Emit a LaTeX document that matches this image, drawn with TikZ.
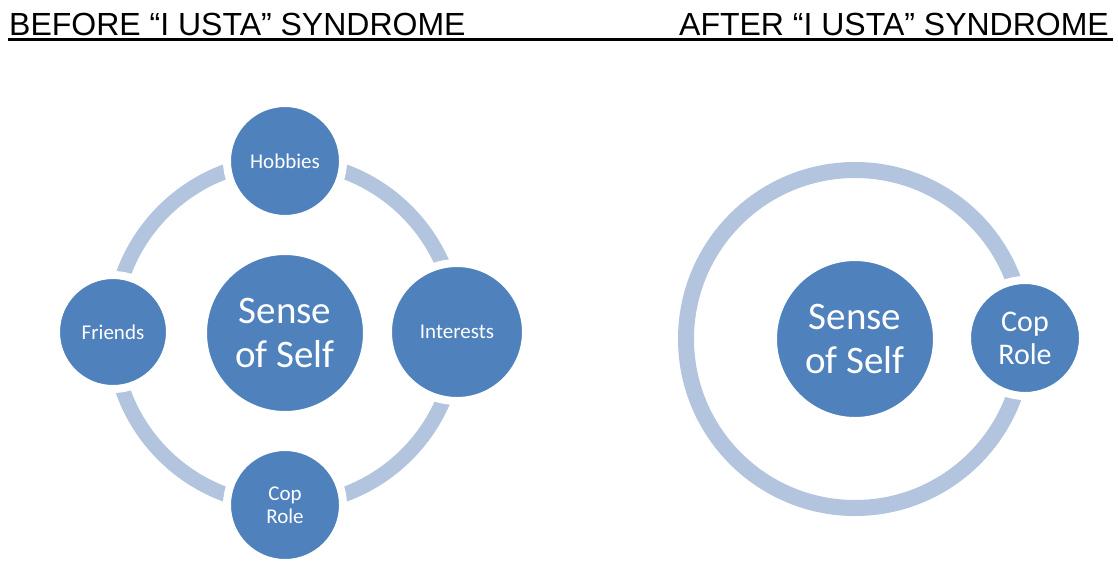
\documentclass[tikz,border=0pt]{standalone}
\usepackage{fontspec}
\setmainfont{Liberation Sans}
\newfontfamily\bubblefont{Carlito}
\definecolor{bubbleblue}{HTML}{4F81BD}
\definecolor{ringblue}{HTML}{B3C4DE}
\begin{document}
\begin{tikzpicture}[x=1pt,y=-1pt,
  ring/.style={draw=ringblue,line width=15pt},
  bubble/.style={circle,fill=bubbleblue,draw=white,line width=8pt,
    inner sep=0pt,text=white,align=center,
    minimum size={2*#1+8pt}},
  small/.style={font=\bubblefont\fontsize{21}{23}\selectfont},
  mid/.style={font=\bubblefont\fontsize{30}{33}\selectfont},
  big/.style={font=\bubblefont\fontsize{39}{44}\selectfont},
  heading/.style={font=\fontsize{32}{36}\selectfont,inner sep=0pt}]
\useasboundingbox (0,0) rectangle (1118,568);

% headings with a single underline running across the page
\node[heading,anchor=base west] (before) at (9,35) {BEFORE “I USTA” SYNDROME};
\node[heading,anchor=base east] (after) at (1109,35) {AFTER “I USTA” SYNDROME};
\coordinate (ulA) at (8,39.5);
\coordinate (ulB) at (1113,39.5);
\draw[line width=2.6pt] (ulA) -- (ulB);

% before: four roles around the self
\coordinate (cL) at (285,333);
\draw[ring] (cL) circle[radius=172];
\node[bubble=78pt,big] (selfL) at (cL) {Sense\\of Self};
\node[bubble=54pt,small] (hobbies) at (285,161) {Hobbies};
\node[bubble=65pt,small] (interests) at (457,332) {Interests};
\node[bubble=54pt,small] (copL) at (285,505) {Cop\\Role};
\node[bubble=53pt,small] (friends) at (113,332) {Friends};

% after: only the cop role remains
\coordinate (cR) at (855,339);
\draw[ring,line width=16pt] (cR) circle[radius=169];
\node[bubble=78pt,big] (selfR) at (cR) {Sense\\of Self};
\node[bubble=54pt,mid] (copR) at (1025,338) {Cop\\Role};
\end{tikzpicture}
\end{document}
